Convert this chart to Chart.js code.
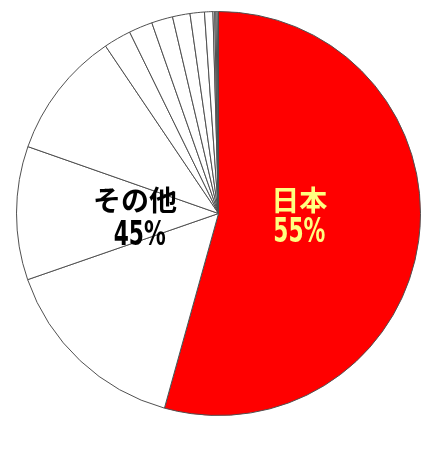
<!DOCTYPE html>
<html>
<head>
<meta charset="utf-8">
<script src="https://cdn.jsdelivr.net/npm/chart.js@4/dist/chart.umd.min.js"></script>
<style>
  html, body { margin: 0; padding: 0; background: #fff; }
  #wrap { width: 446px; height: 450px; }
</style>
</head>
<body>
<div id="wrap"><canvas id="pieChart" width="446" height="450"></canvas></div>
<script>
// shares in %, clockwise from 12 o'clock
const countries = ["日本", "その他1", "その他2", "その他3", "その他4", "その他5", "その他6",
                   "その他7", "その他8", "その他9", "その他10", "その他11", "その他12", "その他13"];
const shares = [54.4, 15.4, 10.7, 10.2, 2.2, 1.9, 1.7, 1.4, 1.15, 0.67, 0.14, 0.1, 0.1, 0.1];
const sliceColors = ["#ff0000", "#ffffff", "#ffffff", "#ffffff", "#ffffff", "#ffffff", "#ffffff",
                     "#ffffff", "#ffffff", "#ffffff", "#ffffff", "#ffffff", "#ffffff", "#ffffff"];
const labelLines = [["日本", "55%"], ["その他", "45%"]];

// draw the two text blocks inside the pie
const pieLabels = {
    id: "pieLabels",
    afterDatasetsDraw(chart) {
        const arc = chart.getDatasetMeta(0).data[0];
        const cx = arc.x, cy = arc.y, r = arc.outerRadius;
        const ctx = chart.ctx;
        const blocks = [
            { lines: labelLines[0], color: "#ffff80", pos: [[0.40, -0.065], [0.40, 0.095]] },
            { lines: labelLines[1], color: "#000000", pos: [[-0.413, -0.065], [-0.39, 0.113]] }
        ];
        ctx.save();
        ctx.textAlign = "center";
        ctx.textBaseline = "middle";
        blocks.forEach(b => {
            // first line: kanji / kana
            ctx.fillStyle = b.color;
            ctx.font = "bold 28px 'Noto Sans CJK JP'";
            ctx.fillText(b.lines[0], cx + b.pos[0][0] * r, cy + b.pos[0][1] * r);
            // second line: tall narrow digits
            ctx.save();
            ctx.translate(cx + b.pos[1][0] * r, cy + b.pos[1][1] * r);
            ctx.scale(0.64, 1);
            ctx.font = "bold 34px 'DejaVu Sans'";
            ctx.fillText(b.lines[1], 0, 0);
            ctx.restore();
        });
        ctx.restore();
    }
};

const ctx = document.getElementById("pieChart").getContext("2d");
const chart = new Chart(ctx, {
    type: "pie",
    data: {
        labels: countries,
        datasets: [{
            data: shares,
            backgroundColor: sliceColors,
            borderColor: "#505050",
            borderWidth: 1,
            borderAlign: "center"
        }]
    },
    options: {
        responsive: false,
        animation: false,
        layout: { padding: { left: 16, right: 25, top: 11, bottom: 34 } },
        plugins: {
            legend: { display: false },
            tooltip: { enabled: false }
        }
    },
    plugins: [pieLabels]
});
</script>
</body>
</html>
